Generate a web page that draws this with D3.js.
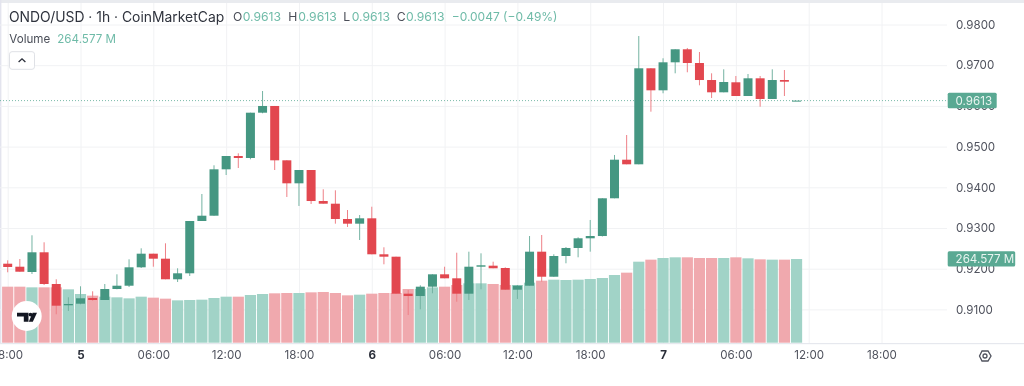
<!DOCTYPE html>
<html><head><meta charset="utf-8">
<style>html,body{margin:0;padding:0;background:#fff;overflow:hidden}svg{display:block;filter:blur(.35px)}text{font-family:Inter,"Noto Sans",sans-serif}</style>
<script src="https://cdnjs.cloudflare.com/ajax/libs/d3/7.8.5/d3.min.js"></script>
</head><body><svg id="c" width="1024" height="386"></svg>
<script>
const hours=d3.range(66);
const open=[.92123,.92049,.91919,.92403,.91624,.91101,.9114,.9128,.91231,.91501,.91582,.92034,.92369,.92246,.9174,.91887,.93172,.93302,.94442,.94769,.9472,.95833,.95998,.94663,.94098,.94425,.93663,.93597,.93221,.93106,.93238,.92354,.92295,.91386,.91329,.91558,.91862,.91764,.91386,.92049,.92074,.92017,.91484,.91582,.92418,.91803,.92312,.92509,.92747,.92803,.9373,.94678,.94565,.96924,.96383,.97071,.97391,.97054,.96636,.96334,.9658,.96243,.96678,.9617,.96636,.9613];
const close=[.92042,.91926,.92403,.91624,.91091,.91133,.91273,.91231,.91501,.91582,.92034,.92369,.92246,.9174,.91887,.93172,.93302,.94442,.94769,.9472,.95833,.95998,.94663,.94098,.94425,.93663,.93597,.93221,.93106,.93238,.92354,.92295,.91386,.91329,.91558,.91862,.91764,.91386,.92049,.92084,.9201,.91484,.91582,.92418,.91803,.92312,.92509,.92747,.92803,.9373,.94678,.94565,.96924,.96383,.97071,.97391,.97054,.96636,.96334,.96587,.96243,.96678,.9617,.96636,.96595,.9613];
const high=[.92206,.92238,.92821,.92649,.9174,.91297,.91568,.91445,.91624,.91862,.92231,.92501,.92369,.92624,.9201,.93172,.93835,.94541,.94769,.94835,.95833,.96366,.95998,.94663,.94425,.94425,.93951,.93926,.93442,.93319,.93523,.92526,.92295,.91477,.91592,.91862,.92049,.92393,.92418,.92378,.92172,.92034,.916,.92803,.92828,.92354,.92533,.92772,.93197,.9373,.94794,.95285,.97717,.96924,.9717,.97391,.97423,.97324,.96801,.96899,.96735,.96784,.96735,.96899,.96882,.9613];
const low=[.91912,.91926,.9187,.916,.9088,.90961,.91125,.91214,.91231,.91494,.9155,.92017,.92049,.9174,.91673,.91821,.93172,.93302,.94302,.94474,.94688,.95818,.94425,.93762,.93541,.9359,.93597,.93106,.93025,.92705,.92354,.92108,.91386,.90862,.91002,.91396,.91764,.91189,.91231,.91494,.9201,.91484,.91256,.91582,.91681,.91803,.92133,.9228,.92418,.92791,.9373,.94565,.94565,.95858,.9631,.96801,.96826,.96506,.96194,.96334,.96243,.96243,.9598,.9617,.96243,.9613];
const volume=[177.1,177.1,175,175,175,168.7,153.9,148.7,145.5,143.4,140.2,145.5,142.4,139.2,133.9,135,136,141.3,145.5,145.5,150.8,153.9,156.1,157.1,157.1,159.2,160.3,157.1,149.7,151.8,155,157.1,157.1,169.7,169.7,175,177.1,182.4,187.7,187.7,185.6,182.4,182.4,189.8,196.1,199.2,198.2,199.2,201.4,204.5,214,221.4,256.1,262.5,267.7,269.9,269.9,267.7,267.7,267.7,269.9,266.7,263.5,262.5,262.5,264.577];
const priceTicks=[.98,.97,.96,.95,.94,.93,.92,.91];
const timeLabels=["18:00","5","06:00","12:00","18:00","6","06:00","12:00","18:00","7","06:00","12:00","18:00"];
const timePos=[0,6,12,18,24,30,36,42,48,54,60,66,72];
const lastPrice=.9613,lastVolume=264.577;
const GREEN="#459782",RED="#e2474f",TXT="#50535e",TAG="#5aa993";

const W=1024,H=386,axisX=947,axisY=343;
const svg=d3.select("#c");
const x=d3.scaleLinear().domain([0,72]).range([7.7,881.5]);
const y=d3.scaleLinear().domain([.91,.98]).range([309.4,24.5]);
const v=d3.scaleLinear().domain([0,lastVolume]).range([axisY-.3,259]);

svg.append("rect").attr("width",W).attr("height",3).attr("fill","#e9ebef");
svg.append("rect").attr("x",0).attr("width",1.4).attr("height",axisY).attr("fill","#e3e4ee");

// grid via axes
svg.append("g").attr("transform",`translate(0,${axisY})`)
 .call(d3.axisBottom(x).tickValues(timePos).tickSize(-(axisY-3)).tickFormat(""))
 .call(g=>{g.select(".domain").remove();g.selectAll("line").attr("stroke","#f1f2f4")});
svg.append("g").attr("transform",`translate(${axisX},0)`)
 .call(d3.axisLeft(y).tickValues(priceTicks).tickSize(axisX).tickFormat(""))
 .call(g=>{g.select(".domain").remove();g.selectAll("line").attr("stroke","#f1f2f4")});

// volume
const bw=11.2;
svg.append("g").selectAll("rect").data(hours).join("rect")
 .attr("x",i=>x(i)-bw/2).attr("width",bw).attr("y",i=>v(volume[i])).attr("height",i=>v(0)-v(volume[i]))
 .attr("fill",i=>close[i]>=open[i]?"#a1d3c7":"#f0a9ae");

// last price line
svg.append("line").attr("x1",0).attr("x2",axisX).attr("y1",y(lastPrice)).attr("y2",y(lastPrice))
 .attr("stroke","#5aa993").attr("stroke-dasharray","1 2").attr("opacity",.8);

// candles
const cw=9;
const g=svg.append("g");
g.selectAll("line").data(hours).join("line")
 .attr("x1",x).attr("x2",x).attr("y1",i=>y(high[i])).attr("y2",i=>y(low[i]))
 .attr("stroke",i=>close[i]>=open[i]?"#74b3a2":"#ee8087").attr("stroke-width",1);
g.selectAll("rect").data(hours).join("rect")
 .attr("x",i=>x(i)-cw/2).attr("width",cw)
 .attr("y",i=>y(Math.max(open[i],close[i])))
 .attr("height",i=>Math.max(1,Math.abs(y(open[i])-y(close[i]))))
 .attr("fill",i=>close[i]>=open[i]?GREEN:RED);

// axis lines and labels
svg.append("rect").attr("x",0).attr("y",axisY).attr("width",W).attr("height",1.2).attr("fill","#e6e8ee");
const py=svg.append("g").attr("transform",`translate(${axisX},0)`)
 .call(d3.axisRight(y).tickValues(priceTicks).tickSize(0).tickPadding(9).tickFormat(d3.format(".4f")));
py.select(".domain").remove();
py.selectAll("text").attr("fill",TXT).attr("font-size",11.6).style("font-family","Inter");
const px=svg.append("g").attr("transform",`translate(0,${axisY})`)
 .call(d3.axisBottom(x).tickValues(timePos).tickSize(0).tickPadding(8).tickFormat((d,i)=>timeLabels[i]));
px.select(".domain").remove();
px.selectAll("text").attr("fill",(d,i)=>timeLabels[i].length==1?"#2a2e39":TXT)
 .attr("font-weight",(d,i)=>timeLabels[i].length==1?700:400)
 .attr("font-size",11.6).style("font-family","Inter");

// tags
function tag(yy,w,label){
 svg.append("rect").attr("x",axisX+.7).attr("y",yy-7.8).attr("width",w).attr("height",15.4).attr("rx",1.5).attr("fill",TAG);
 svg.append("text").attr("x",axisX+8.6).attr("y",yy+4.2).attr("fill","#e8f4f0").attr("font-size",11.6).text(label);
}
tag(y(lastPrice),49,d3.format(".4f")(lastPrice));
tag(v(lastVolume),67.5,"264.577 M");

// legend
const t=(xx,yy,s,c,fs)=>svg.append("text").attr("x",xx).attr("y",yy).attr("fill",c).attr("font-size",fs).text(s);
t(9,22.3,"ONDO/USD · 1h · CoinMarketCap","#30343e",13.9);
const LG="#6fbba8",DK="#4a4e58";
[["O",233,242.7],["H",288.3,298.3],["L",343.3,351.7],["C",396.7,406]].forEach(([s,a,b])=>{
 t(a,21,s,DK,12.2);t(b,21,"0.9613",LG,12.2);});
t(451.7,21,"−0.0047 (−0.49%)",LG,12);
t(9.3,42.7,"Volume",DK,11.6);t(57.3,42.7,"264.577 M",LG,11.6);

// collapse button
svg.append("rect").attr("x",9.5).attr("y",51.7).attr("width",25).attr("height",17.6).attr("rx",2.5).attr("fill","#fff").attr("stroke","#dfe1e6");
svg.append("path").attr("d","M18.6 62 L22 58.8 L25.4 62").attr("fill","none").attr("stroke","#2a2e39").attr("stroke-width",1.3);

// logo
svg.append("circle").attr("cx",26.7).attr("cy",316).attr("r",15).attr("fill","#fff");
svg.append("path").attr("d","M17 312.7 H28.5 V321.7 H23.8 V316.6 H17 Z M32.8 321.7 L37 312.7 H32.6 L28.8 321.7 Z").attr("fill","#131722");
svg.append("circle").attr("cx",30.5).attr("cy",314.6).attr("r",1.9).attr("fill","#131722");

// settings icon
svg.append("path").attr("d","M979.5 356 L982 351 H988 L991 356 L988 361 H982 Z").attr("fill","none").attr("stroke","#50535e").attr("stroke-width",1.3);
svg.append("circle").attr("cx",985).attr("cy",356).attr("r",2).attr("fill","none").attr("stroke","#50535e").attr("stroke-width",1.3);
</script></body></html>
